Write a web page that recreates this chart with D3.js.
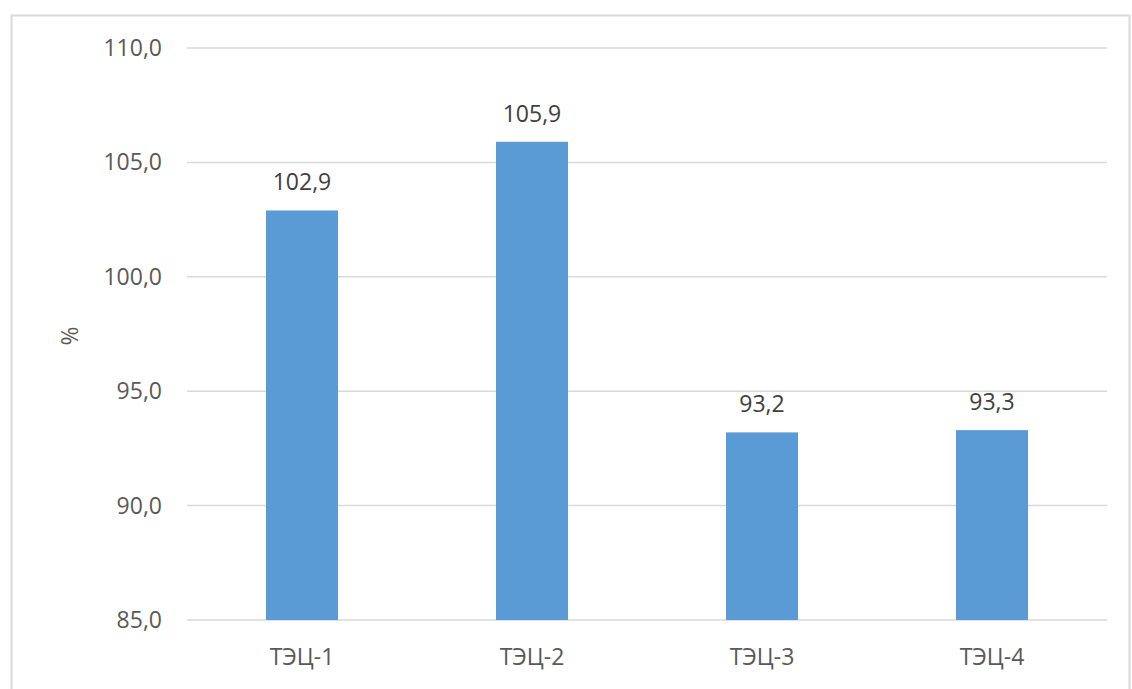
<!DOCTYPE html>
<html><head><meta charset="utf-8">
<script src="https://cdn.jsdelivr.net/npm/d3@7/dist/d3.min.js"></script>
<style>body{margin:0;background:#fff}</style>
</head><body>
<svg id="c" width="1132" height="689"></svg>
<script>
const categories = ["ТЭЦ-1","ТЭЦ-2","ТЭЦ-3","ТЭЦ-4"];
const values = [102.9,105.9,93.2,93.3];
const yTicks = [85,90,95,100,105,110];
const yLabel = "%";

const svg = d3.select("#c");
const font = "'Open Sans', sans-serif";
const textColor = "#595959";
const fs = 23;
svg.append("rect").attr("x",11.5).attr("y",15.5).attr("width",1118).attr("height",700)
  .attr("fill","#fff").attr("stroke","#d9d9d9").attr("stroke-width",2);

const x = d3.scaleBand().domain(categories).range([187,1107]).paddingInner(0.687).paddingOuter(0.3435);
const y = d3.scaleLinear().domain([85,110]).range([620,48]);

const g = svg.append("g");
g.selectAll("line.grid").data(yTicks).join("line").attr("class","grid")
  .attr("x1",187).attr("x2",1107).attr("y1",d=>y(d)).attr("y2",d=>y(d))
  .attr("stroke","#d9d9d9").attr("stroke-width",1.5);

const fmt = v => v.toFixed(1).replace(".",",");
g.selectAll("text.yt").data(yTicks).join("text").attr("class","yt")
  .attr("x",162).attr("y",d=>y(d)).attr("dy","0.35em").attr("text-anchor","end")
  .attr("font-family",font).attr("font-size",fs).attr("fill",textColor).text(fmt);

g.selectAll("rect.bar").data(values).join("rect").attr("class","bar")
  .attr("x",(d,i)=>x(categories[i])).attr("width",x.bandwidth())
  .attr("y",d=>y(d)).attr("height",d=>y(85)-y(d)).attr("fill","#5B9BD5");

g.selectAll("text.lab").data(values).join("text").attr("class","lab")
  .attr("x",(d,i)=>x(categories[i])+x.bandwidth()/2).attr("y",d=>y(d)-20)
  .attr("text-anchor","middle").attr("font-family",font).attr("font-size",fs)
  .attr("fill","#404040").text(fmt);

g.selectAll("text.xt").data(categories).join("text").attr("class","xt")
  .attr("x",d=>x(d)+x.bandwidth()/2).attr("y",657).attr("dy","0.35em")
  .attr("text-anchor","middle").attr("font-family",font).attr("font-size",fs)
  .attr("fill",textColor).text(d=>d);

svg.append("text").attr("transform","translate(70,336) rotate(-90)")
  .attr("text-anchor","middle").attr("dy","0.35em").attr("font-family",font)
  .attr("font-size",fs).attr("fill",textColor).text(yLabel);
</script>
</body></html>
